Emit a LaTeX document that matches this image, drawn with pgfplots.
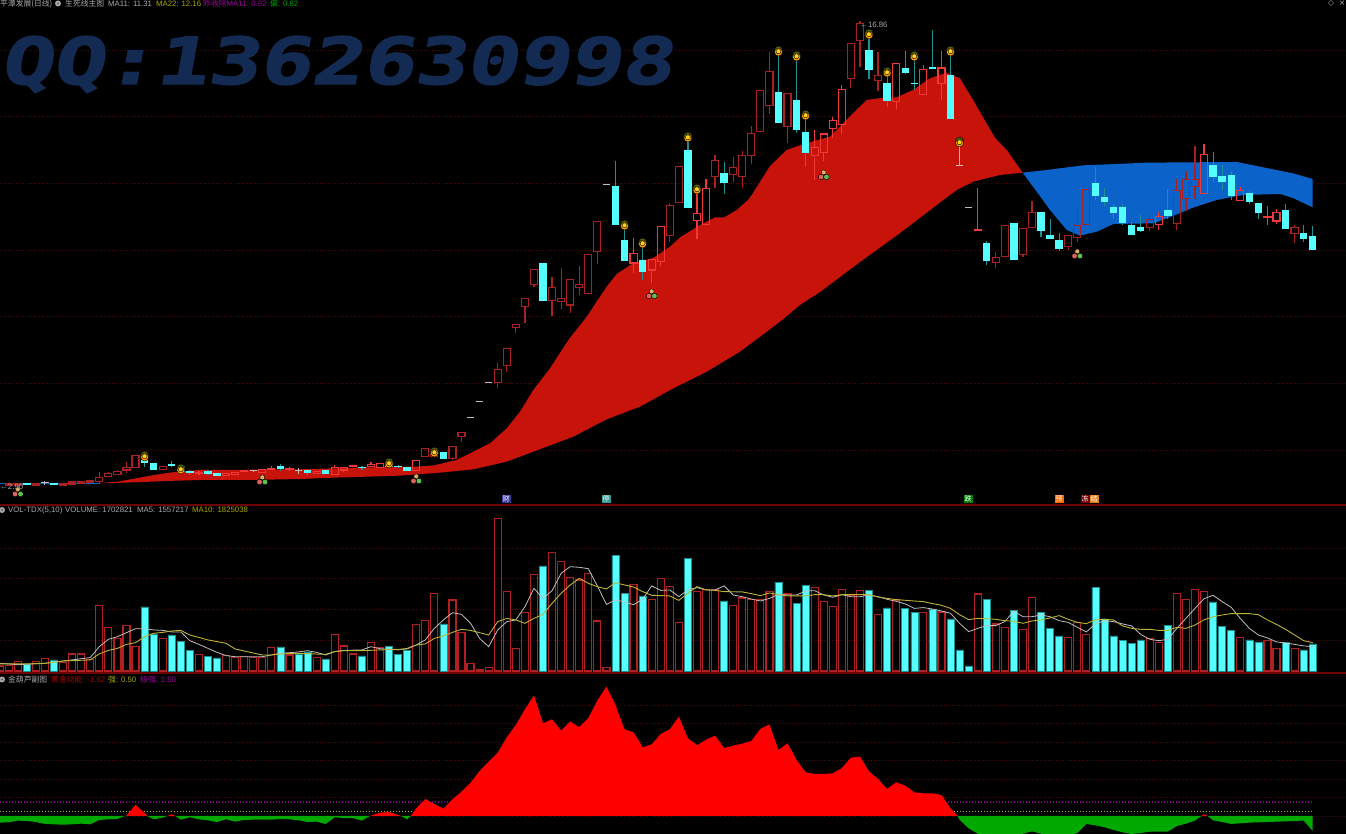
\documentclass[border=0pt]{standalone}
\usepackage{fontspec}
\usepackage{graphicx}
\usepackage{pgfplots}
\usepackage{pgfplotstable}
\pgfplotsset{compat=1.18}
\setmainfont{Liberation Sans}
\newfontfamily\cjk{Noto Sans CJK SC}
\newfontfamily\dejavu{DejaVu Sans}
\newfontfamily\wmfont[FakeBold=2]{DejaVu Sans Mono}

\definecolor{gridred}{HTML}{4A0808}
\definecolor{sepred}{HTML}{6E0000}
\definecolor{bandred}{HTML}{C8130B}
\definecolor{bandblue}{HTML}{0B62C8}
\definecolor{cdark}{HTML}{A82020}
\definecolor{cbright}{HTML}{F03838}
\definecolor{cy}{HTML}{55FFFF}
\definecolor{wickcy}{HTML}{1E9090}
\definecolor{volred}{HTML}{B02020}
\definecolor{wm}{HTML}{132B52}
\definecolor{txgray}{HTML}{A8A8A8}
\definecolor{txyel}{HTML}{A8A800}
\definecolor{txmag}{HTML}{A000A0}
\definecolor{txgrn}{HTML}{00A000}
\definecolor{txred}{HTML}{B00000}
\definecolor{leaf}{HTML}{4A6A10}
\definecolor{ballo}{HTML}{FFA000}
\definecolor{bally}{HTML}{FFD21E}
\definecolor{dotr}{HTML}{E06060}
\definecolor{dotg}{HTML}{5FC050}
\definecolor{doty}{HTML}{D8B060}

% price candles: index, body bottom, body top, low, high
\pgfplotstableread{
i lo hi low high
1 2.95 2.98 2.92 3.01
2 2.95 2.98 2.92 3.01
4 2.95 3.00 2.92 3.01
7 2.95 2.98 2.95 2.98
8 2.98 3.04 2.98 3.04
9 3.01 3.05 3.01 3.05
10 3.04 3.07 3.04 3.07
11 3.05 3.18 3.04 3.35
12 3.20 3.30 3.20 3.34
13 3.27 3.35 3.27 3.40
14 3.40 3.48 3.32 3.63
15 3.47 3.84 3.47 3.84
18 3.42 3.51 3.42 3.51
47 3.80 4.05 3.80 4.05
48 3.82 4.00 3.82 4.00
50 3.74 4.10 3.70 4.10
51 4.40 4.52 4.25 4.52
55 6.03 6.42 5.87 6.60
56 6.53 7.05 6.33 7.05
57 7.67 7.77 7.51 7.77
58 8.30 8.55 7.80 8.55
59 8.96 9.41 8.90 9.41
61 8.48 8.88 8.03 9.20
62 8.46 8.54 8.23 9.45
63 8.35 9.12 8.12 9.12
64 8.88 8.97 8.65 9.52
65 8.69 9.87 8.69 9.87
66 9.95 10.86 9.58 10.86
74 10.43 11.34 10.25 11.40
75 11.42 12.50 11.42 12.50
79 12.20 12.69 11.87 12.85
81 12.26 12.48 12.04 12.78
82 12.20 12.84 11.87 12.97
83 12.84 13.50 12.58 13.72
84 13.55 14.79 13.55 14.79
85 14.34 15.35 14.08 15.93
87 13.70 14.70 13.20 14.70
94 15.15 16.20 14.87 16.20
95 16.28 16.79 15.50 16.86
97 15.08 15.24 14.78 15.95
110 9.62 9.78 9.47 9.94
111 9.80 10.74 9.80 10.74
113 9.87 10.65 9.80 10.65
114 10.67 11.13 10.67 11.47
118 10.10 10.44 10.00 10.44
119 10.38 10.73 10.25 11.32
120 10.76 11.82 10.76 11.82
127 10.68 10.91 10.58 11.05
130 10.80 11.79 10.60 12.12
131 11.55 12.11 11.17 12.38
132 11.90 12.12 11.53 13.12
143 10.50 10.68 10.22 10.74
}\candD

\pgfplotstableread{
i lo hi low high
22 3.31 3.33 3.25 3.37
25 3.24 3.29 3.24 3.29
26 3.27 3.33 3.27 3.33
27 3.35 3.37 3.35 3.37
29 3.33 3.41 3.33 3.41
30 3.41 3.45 3.41 3.52
32 3.41 3.43 3.36 3.48
35 3.30 3.35 3.30 3.35
37 3.26 3.47 3.26 3.55
38 3.40 3.48 3.35 3.48
39 3.50 3.54 3.50 3.54
41 3.50 3.57 3.50 3.64
42 3.48 3.60 3.48 3.60
46 3.38 3.68 3.38 3.68
70 9.61 9.90 9.30 10.37
72 9.40 9.72 9.02 9.72
73 9.65 10.71 9.52 10.71
77 10.88 11.10 10.34 11.80
78 10.76 11.85 10.76 12.13
90 12.83 13.08 12.10 13.60
91 12.92 13.48 12.68 13.48
92 13.64 13.88 13.36 14.00
93 13.77 14.82 13.48 14.95
99 14.45 15.60 14.22 15.60
102 14.66 15.42 14.66 15.55
104 14.99 15.46 14.50 15.98
108 10.59 10.62 10.59 11.85
128 10.76 11.00 10.60 11.15
133 11.70 12.87 11.70 13.18
137 11.49 11.79 11.49 11.88
140 10.99 11.01 10.74 11.32
141 10.87 11.13 10.78 11.22
}\candB

\pgfplotstableread{
i lo hi low high
3 2.96 2.98 2.96 2.98
6 2.95 3.00 2.95 3.00
16 3.61 3.68 3.48 3.68
17 3.40 3.60 3.40 3.60
19 3.53 3.55 3.48 3.68
20 3.34 3.50 3.34 3.50
21 3.30 3.35 3.25 3.40
23 3.29 3.36 3.25 3.41
24 3.23 3.29 3.23 3.29
31 3.42 3.49 3.38 3.58
34 3.30 3.39 3.25 3.39
36 3.29 3.37 3.29 3.37
40 3.46 3.48 3.40 3.53
43 3.49 3.55 3.49 3.55
44 3.50 3.51 3.47 3.56
45 3.36 3.47 3.36 3.47
49 3.73 3.91 3.73 3.91
60 8.48 9.58 8.48 9.58
68 10.75 11.89 10.75 12.67
69 9.68 10.27 9.68 10.60
71 9.34 9.69 9.10 10.18
76 11.26 12.97 11.26 13.27
80 12.01 12.28 11.67 12.64
86 13.82 14.71 13.82 15.94
88 13.60 14.48 13.51 15.67
89 12.90 13.51 12.50 14.05
96 15.40 15.98 15.13 16.45
98 14.48 14.99 14.30 15.31
100 15.31 15.43 15.28 15.97
101 14.97 15.00 14.80 15.79
103 15.42 15.46 15.42 16.60
105 13.93 15.23 13.93 15.94
109 9.68 10.20 9.55 10.27
112 9.70 10.78 9.70 10.81
115 10.57 11.13 10.40 11.13
116 10.34 10.44 10.34 10.92
117 10.04 10.27 9.98 10.52
121 11.62 11.98 11.50 12.48
122 11.44 11.56 11.32 11.85
123 11.10 11.28 10.94 11.38
124 10.81 11.26 10.74 11.38
125 10.44 10.72 10.44 10.83
126 10.58 10.66 10.55 11.05
129 11.03 11.19 10.92 11.82
134 12.19 12.52 12.05 12.94
135 12.03 12.20 11.80 12.55
136 11.62 12.22 11.50 12.38
138 11.45 11.68 11.39 11.77
139 11.10 11.40 10.94 11.40
142 10.63 11.19 10.63 11.38
144 10.34 10.50 10.25 10.75
145 9.99 10.40 9.99 10.72
}\candC

% doji in grey or white
\pgfplotstableread{
i p low high
5 3.01 2.95 3.07
28 3.37 3.33 3.41
33 3.385 3.28 3.45
52 4.98 4.98 4.98
53 5.46 5.46 5.46
54 6.03 6.03 6.03
67 11.97 11.97 11.97
106 12.52 12.52 13.21
107 11.26 11.26 11.26
}\doji

\pgfplotstableread{
i p
16 3.79
20 3.40
43 3.58
48 3.91
69 10.72
71 10.18
76 13.36
77 11.80
86 15.94
88 15.79
89 14.02
96 16.45
98 15.31
101 15.79
105 15.94
106 13.21
}\balls

\pgfplotstableread{
i p
2 2.74
29 3.10
46 3.13
72 8.68
91 12.25
119 9.88
}\trio

% moving-average band, upper edge then lower edge back
\pgfplotstableread{
i p
11.08 3.01
13.06 3.05
15.05 3.15
17.04 3.25
19.03 3.33
22 3.40
26 3.40
29.96 3.42
32.94 3.42
37.03 3.45
41 3.48
43.99 3.50
45.97 3.50
47.96 3.54
50.47 3.70
52.3 3.95
54.15 4.20
55.99 4.65
57.46 5.15
58.93 5.80
60.77 6.45
62.8 7.30
64.83 8.00
67.03 8.90
68.14 9.28
69.94 9.60
72.15 9.76
74.03 10.10
75.13 10.38
77.34 10.75
79 10.98
80.02 10.98
81.39 11.20
82.64 11.50
83.05 11.65
85.07 12.52
86.91 13.00
89.12 13.21
91.7 13.40
94.23 14.10
95.75 14.50
97.03 14.55
99.06 14.58
100.86 14.80
102.74 15.15
104.58 15.32
106.05 15.15
107.49 14.50
109.92 13.36
111.2 13.00
112.97 12.32
110.47 12.25
107.52 12.05
105.69 11.80
104.21 11.50
99.43 10.51
95.01 9.64
90.59 8.74
88.38 8.35
86.17 7.85
83.97 7.40
81.75 6.95
78.08 6.35
74.39 5.85
70.71 5.30
67.03 4.92
63.35 4.40
58.93 3.95
55.99 3.65
52.3 3.42
48.6 3.32
44.2 3.23
40.6 3.20
36.8 3.17
33.2 3.13
29.5 3.11
25.8 3.10
22.1 3.10
18.4 3.07
15.05 3.03
11.08 3.00
}\redBand
\pgfplotstableread{
i p
112.97 12.32
115.63 12.40
119.67 12.54
123.36 12.58
126.67 12.62
131.45 12.63
136.61 12.64
139.18 12.50
142.82 12.30
145 12.13
145 11.28
142.82 11.56
141.4 11.68
137.3 11.65
134.4 11.50
131.78 11.27
129.57 11.02
127.4 10.80
122.99 10.78
121.15 10.55
119.3 10.43
117.84 10.60
115.99 11.20
114.52 11.75
}\blueBand

% volume in millions
\pgfplotstableread{
i v
0 0.33
1 0.34
2 0.60
4 0.60
5 0.83
7 0.57
8 1.11
9 1.11
10 0.76
11 4.27
12 2.84
13 2.13
14 2.94
15 1.61
18 2.13
22 1.09
25 0.99
26 0.86
27 0.96
28 0.89
29 0.86
30 1.54
32 1.04
35 0.86
37 2.39
38 1.63
39 1.11
41 1.84
42 1.54
46 3.04
47 3.30
48 5.05
50 4.62
51 2.49
52 0.47
53 0.11
54 0.24
55 9.93
56 5.18
57 1.48
58 3.82
59 6.29
61 7.72
62 7.13
63 6.09
64 5.92
65 6.35
66 3.25
67 0.24
70 5.64
72 4.66
73 6.03
74 5.48
75 3.17
77 5.18
78 5.31
79 5.31
81 4.27
82 4.75
83 4.66
84 4.66
85 5.18
87 5.01
90 5.41
91 4.50
92 4.21
93 5.31
94 4.89
95 5.25
97 3.69
99 4.62
102 3.82
104 3.84
108 5.01
110 3.06
111 2.84
113 2.68
114 4.79
118 2.19
119 3.17
120 2.39
127 2.13
128 1.84
130 5.05
131 4.63
132 5.31
133 5.18
137 2.19
140 2.00
141 1.45
143 1.48
}\volR
\pgfplotstableread{
i v
3 0.44
6 0.72
16 4.16
17 2.41
19 2.34
20 1.93
21 1.35
23 0.96
24 0.86
31 1.56
33 1.11
34 1.24
36 0.78
40 0.99
43 1.61
44 1.09
45 1.32
49 3.06
60 6.83
68 7.52
69 5.05
71 4.89
76 7.30
80 4.55
86 5.77
88 4.40
89 5.57
96 5.25
98 4.11
100 4.08
101 3.82
103 4.01
105 3.38
106 1.37
107 0.34
109 4.66
112 3.95
115 3.82
116 2.78
117 2.28
121 5.44
122 3.38
123 2.28
124 1.97
125 1.80
126 2.02
129 2.97
134 4.50
135 2.88
136 2.65
138 2.02
139 1.89
142 1.87
144 1.38
145 1.76
}\volC

\pgfplotstableread{
i v
0 .50
2 .41
5 .50
7 .65
10 .87
11 1.58
12 2.06
13 2.23
14 2.49
15 2.75
16 2.75
17 2.67
18 2.64
19 2.54
20 2.54
21 1.97
22 1.73
23 1.47
24 1.21
25 1.00
26 .93
28 .93
29 .93
30 1.04
31 1.15
32 1.19
33 1.24
34 1.32
35 1.21
36 1.04
37 1.26
38 1.34
40 1.37
41 1.58
42 1.45
43 1.41
44 1.37
45 1.47
46 1.69
47 2.02
48 2.77
49 3.32
50 3.79
51 3.68
52 3.10
53 2.12
54 1.58
55 2.67
56 3.21
57 3.32
58 4.18
59 5.37
60 4.72
61 5.22
62 6.35
63 6.78
64 6.74
65 6.65
66 5.53
67 4.33
68 4.62
69 4.49
70 4.31
71 4.66
72 5.53
73 5.24
74 5.27
75 4.83
76 5.27
77 5.42
78 5.27
79 5.27
80 5.53
81 4.94
82 4.83
83 4.68
84 4.55
85 4.72
86 4.98
87 4.94
88 4.94
89 5.20
90 5.22
91 4.94
92 4.79
93 4.96
94 4.83
95 4.83
96 4.94
97 4.83
98 4.66
99 4.53
100 4.36
101 4.07
102 4.12
103 4.03
104 3.90
105 3.75
106 3.10
107 2.56
108 2.77
109 2.95
110 2.95
111 3.21
112 3.90
113 3.53
114 3.53
115 3.64
116 3.53
117 3.27
118 3.16
119 2.84
120 2.54
121 3.06
122 3.27
123 3.21
124 3.06
125 2.93
126 2.38
127 2.06
128 1.97
129 2.06
130 2.77
131 3.42
132 4.07
133 4.70
134 4.92
135 4.51
136 4.14
137 3.42
138 2.77
139 2.34
140 2.15
141 1.89
142 1.82
143 1.73
144 1.63
145 1.58
}\maFive

\pgfplotstableread{
i v
0 .46
3 .46
5 .50
7 .65
10 .72
11 1.11
12 1.34
13 1.47
14 1.73
15 1.84
16 2.23
17 2.45
18 2.51
19 2.60
20 2.64
21 2.34
23 2.02
25 1.80
26 1.43
29 1.04
30 1.04
31 1.11
33 1.15
36 1.08
37 1.26
38 1.32
40 1.32
42 1.37
45 1.43
46 1.69
47 1.76
48 2.12
49 2.28
50 2.51
51 2.71
52 2.64
54 2.34
55 3.21
56 3.42
57 3.32
58 3.10
59 3.42
60 3.68
61 4.40
62 5.05
63 5.59
64 6.02
65 5.70
66 5.48
67 5.33
68 5.74
69 5.59
70 5.46
71 5.16
72 4.92
73 4.90
74 4.88
75 4.59
76 5.05
77 5.48
78 5.27
79 5.24
80 5.16
82 5.14
83 5.03
84 4.90
85 5.07
86 4.96
87 4.88
89 4.88
90 4.96
91 4.96
92 4.88
93 4.96
95 4.96
96 4.96
97 4.81
98 4.72
99 4.64
101 4.55
102 4.51
103 4.38
104 4.27
105 4.07
106 3.66
107 3.34
108 3.42
109 3.40
110 3.36
111 3.27
112 3.23
113 3.10
114 3.25
115 3.32
116 3.45
117 3.60
118 3.36
119 3.16
120 3.08
121 3.32
122 3.36
123 3.32
124 2.93
125 2.77
126 2.71
127 2.71
128 2.64
129 2.64
130 2.84
131 2.77
132 2.99
133 3.32
134 3.53
135 3.64
136 3.73
137 3.73
138 3.73
139 3.66
140 3.32
141 3.03
142 2.71
143 2.34
144 1.97
145 1.84
}\maTen

% hollow body from four strokes, so the band shows through
\newcommand{\hollow}[2]{
  \addplot[draw=none, forget plot, error bars/.cd, y dir=minus, y explicit, error mark=none,
    error bar style={draw=#2, line width=1.2pt}]
    table[x=i, y=lo, y error minus expr=\thisrow{lo}-\thisrow{low}] {#1};
  \addplot[draw=none, forget plot, error bars/.cd, y dir=plus, y explicit, error mark=none,
    error bar style={draw=#2, line width=1.2pt}]
    table[x=i, y=hi, y error plus expr=\thisrow{high}-\thisrow{hi}] {#1};
  \addplot[draw=none, forget plot, error bars/.cd, y dir=plus, y explicit, error mark=none,
    error bar style={draw=#2, line width=1.2pt}]
    table[x expr=\thisrow{i}-0.39, y=lo, y error plus expr=\thisrow{hi}-\thisrow{lo}] {#1};
  \addplot[draw=none, forget plot, error bars/.cd, y dir=plus, y explicit, error mark=none,
    error bar style={draw=#2, line width=1.2pt}]
    table[x expr=\thisrow{i}+0.39, y=lo, y error plus expr=\thisrow{hi}-\thisrow{lo}] {#1};
  \addplot[draw=none, forget plot, error bars/.cd, x dir=both, x fixed=0.455, error mark=none,
    error bar style={draw=#2, line width=1.2pt}]
    table[x=i, y=lo] {#1};
  \addplot[draw=none, forget plot, error bars/.cd, x dir=both, x fixed=0.455, error mark=none,
    error bar style={draw=#2, line width=1.2pt}]
    table[x=i, y=hi] {#1};
}

\newcommand{\hdr}{\fontsize{7.8}{9}\selectfont}
\newcommand{\lab}[4]{\node[anchor=west, inner sep=0pt, text=#3, font=\hdr] at (#1,834-#2) {#4};}
\newcommand{\tagbox}[4]{\node[fill=#3, text=white, inner sep=0.5pt, minimum width=9pt, minimum height=8pt, font=\fontsize{7}{7}\selectfont] at (#1,834-#2) {\cjk #4};}
\newcommand{\icon}[2]{\fill[txgray] (#1,834-#2) circle (3); \fill[black!60] (#1,834-#2) circle (1.2);}

\pgfplotsset{panel/.style={
  scale only axis, width=1346pt,
  xmin=0.0331, xmax=148.678,
  axis background/.style={fill=black},
  axis line style={draw=none},
  tick style={draw=none},
  xtick=\empty, yticklabels={},
  ymajorgrids=true,
  grid style={color=gridred, line width=0.7pt, dash pattern=on 1pt off 1.6pt},
}}

\begin{document}
\begin{tikzpicture}[x=1pt,y=1pt]
\useasboundingbox (0,0) rectangle (1346,834);

\begin{axis}[panel, at={(0pt,329pt)}, anchor=south west, height=505pt,
    ymin=2.35, ymax=17.5, ytick={4,6,8,10,12,14,16}]
  % thin band before the first cross
  \addplot[color=bandblue, line width=1.2pt, forget plot] coordinates {(0,3.00) (11.08,3.00)};
  \addplot[fill=bandred, draw=none, forget plot] table[x=i, y=p] {\redBand} --cycle;
  \addplot[fill=bandblue, draw=none, forget plot] table[x=i, y=p] {\blueBand} --cycle;

  % filled candles
  \addplot[draw=none, forget plot, error bars/.cd, y dir=minus, y explicit, error mark=none,
    error bar style={draw=wickcy, line width=1.2pt}]
    table[x=i, y=lo, y error minus expr=\thisrow{lo}-\thisrow{low}] {\candC};
  \addplot[draw=none, forget plot, error bars/.cd, y dir=plus, y explicit, error mark=none,
    error bar style={draw=wickcy, line width=1.2pt}]
    table[x=i, y=hi, y error plus expr=\thisrow{high}-\thisrow{hi}] {\candC};
  \addplot[draw=none, forget plot, error bars/.cd, y dir=plus, y explicit, error mark=none,
    error bar style={draw=cy, line width=7.4pt}]
    table[x=i, y=lo, y error plus expr=\thisrow{hi}-\thisrow{lo}+0.02] {\candC};

  \hollow{\candD}{cdark}
  \hollow{\candB}{cbright}

  % doji
  \addplot[draw=none, forget plot, error bars/.cd, y dir=both, y explicit, error mark=none,
    error bar style={draw=white!75!black, line width=1pt}]
    table[x=i, y=p, y error plus expr=\thisrow{high}-\thisrow{p}, y error minus expr=\thisrow{p}-\thisrow{low}] {\doji};
  \addplot[draw=none, forget plot, error bars/.cd, x dir=both, x fixed=0.4, error mark=none,
    error bar style={draw=white!75!black, line width=1pt}]
    table[x=i, y=p] {\doji};

  % gold balls on the top signal
  \addplot[only marks, mark=*, mark size=4.2pt, mark options={fill=leaf, draw=none, yshift=1.7pt}, forget plot]
    table[x=i, y=p] {\balls};
  \addplot[only marks, mark=*, mark size=4pt, mark options={fill=ballo, draw=none}, forget plot]
    table[x=i, y=p] {\balls};
  \addplot[only marks, mark=*, mark size=2.5pt, mark options={fill=bally, draw=none, yshift=0.7pt}, forget plot]
    table[x=i, y=p] {\balls};

  % three dots on the bottom signal
  \addplot[only marks, mark=*, mark size=2.5pt, mark options={fill=doty, draw=none, yshift=2.6pt}, forget plot]
    table[x=i, y=p] {\trio};
  \addplot[only marks, mark=*, mark size=2.8pt, mark options={fill=dotr, draw=none, xshift=-2.7pt, yshift=-2pt}, forget plot]
    table[x=i, y=p] {\trio};
  \addplot[only marks, mark=*, mark size=2.8pt, mark options={fill=dotg, draw=none, xshift=2.7pt, yshift=-2pt}, forget plot]
    table[x=i, y=p] {\trio};
\end{axis}

\begin{axis}[panel, at={(0pt,161pt)}, anchor=south west, height=168pt,
    ymin=-0.13, ymax=10.79, ytick={2,4,6,8}]
  \addplot[ybar, bar width=7pt, bar shift=0pt, draw=volred, fill=none, line width=1.2pt, forget plot]
    table[x=i, y=v] {\volR};
  \addplot[ybar, bar width=7pt, bar shift=0pt, draw=wickcy, fill=cy, line width=0.5pt, forget plot]
    table[x=i, y=v] {\volC};
  \addplot[color=white!75!black, line width=0.8pt, forget plot] table[x=i, y=v] {\maFive};
  \addplot[color=yellow!70!black, line width=0.9pt, forget plot] table[x=i, y=v] {\maTen};
\end{axis}

\begin{axis}[panel, at={(0pt,0pt)}, anchor=south west, height=161pt,
    ymin=-1.944, ymax=15.44, ytick={0,2,4,6,8,10,12}]
  \addplot[color=txmag!80!black, line width=1.2pt, dash pattern=on 1.4pt off 1.6pt, forget plot] coordinates {(0,1.5) (145,1.5)};
  \addplot[color=yellow!70!black, line width=1pt, dash pattern=on 1.6pt off 1.4pt, forget plot] coordinates {(0,0.5) (145,0.5)};
  \addplot[fill=green!66!black, draw=none, forget plot] coordinates {
    (0,0) (0,-.72) (1,-.68) (2,-.50) (3,-.54) (4,-.65) (5,-.86) (6,-.90) (7,-.94) (8,-.90) (9,-.83)
    (10,-.90) (11,-.43) (12,-.36) (13,-.32) (13.8,0)} \closedcycle;
  \addplot[fill=red, draw=none, forget plot] coordinates {
    (13.8,0) (14,.04) (15,1.22) (16,.32) (16.3,0)} \closedcycle;
  \addplot[fill=green!66!black, draw=none, forget plot] coordinates {
    (16.3,0) (17,-.36) (18,-.18) (18.5,0)} \closedcycle;
  \addplot[fill=red, draw=none, forget plot] coordinates {
    (18.5,0) (19,.18) (19.4,0)} \closedcycle;
  \addplot[fill=green!66!black, draw=none, forget plot] coordinates {
    (19.4,0) (20,-.40) (21,-.14) (22,-.36) (23,-.47) (24,-.65) (25,-.36) (26,-.61) (27,-.43) (28,-.40)
    (29,-.40) (30,-.40) (31,-.32) (32,-.36) (33,-.47) (34,-.65) (35,-.61) (36,-.86) (37,-.14) (38,-.22)
    (39,-.22) (40,-.50) (40.9,0)} \closedcycle;
  \addplot[fill=red, draw=none, forget plot] coordinates {
    (40.9,0) (41,.04) (42,.36) (43,.43) (44,.11) (44.3,0)} \closedcycle;
  \addplot[fill=green!66!black, draw=none, forget plot] coordinates {
    (44.3,0) (45,-.36) (45.4,0)} \closedcycle;
  \addplot[fill=red, draw=none, forget plot] coordinates {
    (45.4,0) (46,.83) (47,1.84) (48,1.30) (49,.79) (50,1.80) (51,2.63) (52,3.60) (53,4.86) (54,5.87)
    (55,6.84) (56,8.50) (57,9.83) (58,11.52) (59,13.03) (60,10.01) (61,10.44) (62,9.22) (63,10.22)
    (64,9.58) (65,10.58) (66,12.46) (67,13.97) (68,11.99) (69,9.36) (70,9.04) (71,7.42) (72,7.74)
    (73,8.86) (74,9.36) (75,10.73) (76,8.39) (77,7.63) (78,8.24) (79,8.68) (80,7.34) (81,7.60)
    (82,7.81) (83,8.10) (84,9.40) (85,9.90) (86,7.13) (87,7.85) (88,6.05) (89,4.72) (90,4.54)
    (91,4.54) (92,4.61) (93,5.18) (94,6.30) (95,6.41) (96,4.82) (97,4.00) (98,2.92) (99,3.64)
    (100,3.28) (101,2.56) (102,2.45) (103,2.45) (104,2.27) (105,.83) (105.8,0)} \closedcycle;
  \addplot[fill=green!66!black, draw=none, forget plot] coordinates {
    (105.8,0) (106,-.40) (107,-1.33) (108,-1.91) (109,-2.2) (110,-2.2) (111,-2.2) (112,-2.2) (113,-1.91)
    (114,-1.66) (115,-1.91) (116,-2.1) (117,-2.1) (118,-2.1) (119,-1.84) (120,-.86) (121,-1.01)
    (122,-1.22) (123,-1.51) (124,-1.76) (125,-1.94) (126,-1.84) (127,-1.69) (128,-1.69) (129,-1.69)
    (130,-1.08) (131,-.83) (132,-.50) (132.7,0)} \closedcycle;
  \addplot[fill=red, draw=none, forget plot] coordinates {
    (132.7,0) (133,.18) (133.4,0)} \closedcycle;
  \addplot[fill=green!66!black, draw=none, forget plot] coordinates {
    (133.4,0) (134,-.47) (135,-.65) (136,-.86) (137,-.79) (138,-.72) (139,-.68) (140,-.65) (141,-.61)
    (142,-.58) (143,-.54) (144,-.50) (145,-1.62) (145,0)} \closedcycle;
\end{axis}

% panel separators
\draw[sepred, line width=2pt] (0,329) -- (1346,329);
\draw[sepred, line width=2pt] (0,161) -- (1346,161);

% watermark
\node[anchor=base west, inner sep=0pt, text=wm, xslant=0.18] at (0,834-84)
  {\resizebox{672pt}{48pt}{\wmfont\bfseries QQ:1362630998}};

% header lines
\lab{0}{3.5}{txgray}{\cjk 平潭发展(日线)}
\icon{58}{3.5}
\lab{65}{3.5}{txgray}{\cjk 生死线主图}
\lab{108}{3.5}{txgray}{MA11: 11.31}
\lab{156}{3.5}{txyel}{MA22: 12.16}
\lab{203}{3.5}{txmag}{{\cjk 昨收除}MA11: 0.92}
\lab{270}{3.5}{txgrn}{{\cjk 偏}: 0.82}
\icon{2}{510}
\lab{8}{510}{txgray}{VOL-TDX(5,10)}
\lab{65}{510}{txgray}{VOLUME: 1702821}
\lab{137}{510}{txgray}{MA5: 1557217}
\lab{192}{510}{txyel}{MA10: 1825038}
\icon{2}{679.5}
\lab{8}{679.5}{txgray}{\cjk 金葫芦副图}
\lab{51}{679.5}{txred}{{\cjk 黄金动能}: -1.62}
\lab{108}{679.5}{txyel}{{\cjk 强}: 0.50}
\lab{140}{679.5}{txmag}{{\cjk 极强}: 1.50}

% price labels and corner marks
\lab{860}{25}{txgray}{←16.86}
\lab{0}{486.5}{txgray}{←2.90}
\node[text=txgray, font=\hdr\dejavu, inner sep=0pt] at (1331,834-3) {◇};
\node[text=txgray, font=\hdr\dejavu, inner sep=0pt] at (1342,834-3) {×};

% event tags
\tagbox{506}{499}{blue!45!gray!85!black}{财}
\tagbox{606}{499}{teal!80!white}{停}
\tagbox{968}{499}{green!50!black}{跌}
\tagbox{1059}{499}{orange!80!red}{预}
\tagbox{1085}{499}{red!45!black}{冻}
\tagbox{1094}{499}{orange!60!brown}{结}
\end{tikzpicture}
\end{document}
